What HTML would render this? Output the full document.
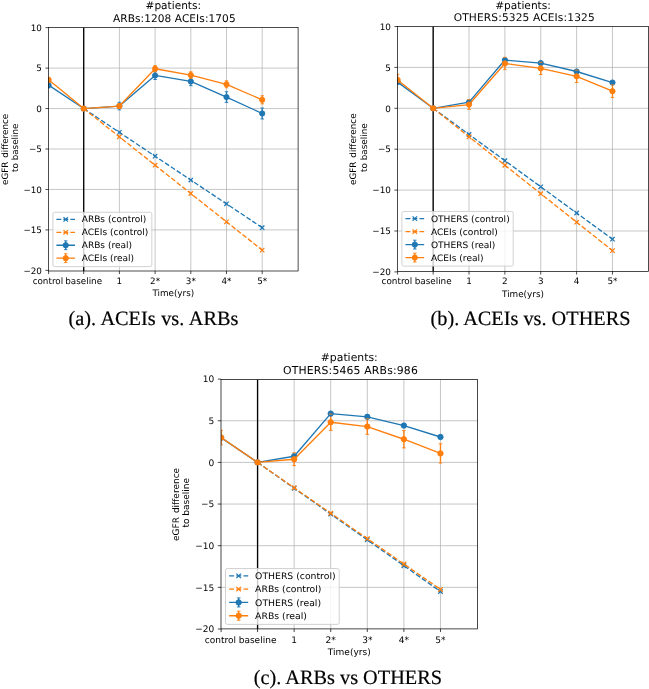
<!DOCTYPE html>
<html lang="en">
<head>
<meta charset="utf-8">
<title>eGFR difference to baseline</title>
<style>
html,body{margin:0;padding:0;background:#fff;}
body{width:649px;height:689px;overflow:hidden;}
svg{display:block;text-rendering:geometricPrecision;will-change:transform;}
</style>
</head>
<body>
<svg width="649" height="689" viewBox="0 0 649 689">
<rect width="649" height="689" fill="#fff"/>
<g id="pa">
<clipPath id="clip-pa"><rect x="48.5" y="27.4" width="249.6" height="243.6"/></clipPath>
<path d="M83.7 27.4V271M119.4 27.4V271M155.1 27.4V271M190.8 27.4V271M226.5 27.4V271M262.2 27.4V271M48.5 68.1H298.1M48.5 108.55H298.1M48.5 149H298.1M48.5 189.45H298.1M48.5 229.9H298.1" stroke="#b0b0b0" stroke-width="0.7" fill="none"/>
<g clip-path="url(#clip-pa)">
<path d="M83.7 27.4V271" stroke="#000" stroke-width="1.32" fill="none"/>
<path d="M83.7 108.55L119.4 132.38L155.1 156.2L190.8 180.03L226.5 203.85L262.2 227.68" stroke="#1f77b4" stroke-width="1.32" stroke-dasharray="4.88 2.11" fill="none"/>
<path d="M81.5 106.35L85.9 110.75M81.5 110.75L85.9 106.35M117.2 130.18L121.6 134.57M117.2 134.57L121.6 130.18M152.9 154L157.3 158.4M152.9 158.4L157.3 154M188.6 177.83L193 182.22M188.6 182.22L193 177.83M224.3 201.65L228.7 206.05M224.3 206.05L228.7 201.65M260 225.48L264.4 229.87M260 229.87L264.4 225.48" stroke="#1f77b4" stroke-width="1.23" fill="none"/>
<path d="M83.7 108.55L119.4 136.87L155.1 165.18L190.8 193.5L226.5 221.81L262.2 250.12" stroke="#ff7f0e" stroke-width="1.32" stroke-dasharray="4.88 2.11" fill="none"/>
<path d="M81.5 106.35L85.9 110.75M81.5 110.75L85.9 106.35M117.2 134.67L121.6 139.06M117.2 139.06L121.6 134.67M152.9 162.98L157.3 167.38M152.9 167.38L157.3 162.98M188.6 191.3L193 195.69M188.6 195.69L193 191.3M224.3 219.61L228.7 224.01M224.3 224.01L228.7 219.61M260 247.93L264.4 252.32M260 252.32L264.4 247.93" stroke="#ff7f0e" stroke-width="1.23" fill="none"/>
<path d="M48.6 82.26V87.92M119.4 102.24V109.84M155.1 71.42V79.51M190.8 77.24V85.66M226.5 91.72V102.4M262.2 107.98V118.99" stroke="#1f77b4" stroke-width="1.32" fill="none"/>
<path d="M48.6 77.4V82.26M119.4 103.62V108.47M155.1 65.67V71.82M190.8 71.82V78.29M226.5 80.8V87.76M262.2 95.77V103.86" stroke="#ff7f0e" stroke-width="1.32" fill="none"/>
<path d="M48.6 85.09L83.7 108.55L119.4 106.04L155.1 75.46L190.8 81.45L226.5 97.06L262.2 113.48" stroke="#1f77b4" stroke-width="1.32" stroke-linejoin="round" fill="none"/>
<circle cx="48.6" cy="85.09" r="2.64" fill="#1f77b4" stroke="#1f77b4" stroke-width="0.88"/>
<circle cx="83.7" cy="108.55" r="2.64" fill="#1f77b4" stroke="#1f77b4" stroke-width="0.88"/>
<circle cx="119.4" cy="106.04" r="2.64" fill="#1f77b4" stroke="#1f77b4" stroke-width="0.88"/>
<circle cx="155.1" cy="75.46" r="2.64" fill="#1f77b4" stroke="#1f77b4" stroke-width="0.88"/>
<circle cx="190.8" cy="81.45" r="2.64" fill="#1f77b4" stroke="#1f77b4" stroke-width="0.88"/>
<circle cx="226.5" cy="97.06" r="2.64" fill="#1f77b4" stroke="#1f77b4" stroke-width="0.88"/>
<circle cx="262.2" cy="113.48" r="2.64" fill="#1f77b4" stroke="#1f77b4" stroke-width="0.88"/>
<path d="M46.84 82.26h3.52M46.84 87.92h3.52M117.64 102.24h3.52M117.64 109.84h3.52M153.34 71.42h3.52M153.34 79.51h3.52M189.04 77.24h3.52M189.04 85.66h3.52M224.74 91.72h3.52M224.74 102.4h3.52M260.44 107.98h3.52M260.44 118.99h3.52" stroke="#1f77b4" stroke-width="0.88" fill="none"/>
<path d="M48.6 79.83L83.7 108.55L119.4 106.04L155.1 68.75L190.8 75.06L226.5 84.28L262.2 99.81" stroke="#ff7f0e" stroke-width="1.32" stroke-linejoin="round" fill="none"/>
<circle cx="48.6" cy="79.83" r="2.64" fill="#ff7f0e" stroke="#ff7f0e" stroke-width="0.88"/>
<circle cx="83.7" cy="108.55" r="2.64" fill="#ff7f0e" stroke="#ff7f0e" stroke-width="0.88"/>
<circle cx="119.4" cy="106.04" r="2.64" fill="#ff7f0e" stroke="#ff7f0e" stroke-width="0.88"/>
<circle cx="155.1" cy="68.75" r="2.64" fill="#ff7f0e" stroke="#ff7f0e" stroke-width="0.88"/>
<circle cx="190.8" cy="75.06" r="2.64" fill="#ff7f0e" stroke="#ff7f0e" stroke-width="0.88"/>
<circle cx="226.5" cy="84.28" r="2.64" fill="#ff7f0e" stroke="#ff7f0e" stroke-width="0.88"/>
<circle cx="262.2" cy="99.81" r="2.64" fill="#ff7f0e" stroke="#ff7f0e" stroke-width="0.88"/>
<path d="M46.84 77.4h3.52M46.84 82.26h3.52M117.64 103.62h3.52M117.64 108.47h3.52M153.34 65.67h3.52M153.34 71.82h3.52M189.04 71.82h3.52M189.04 78.29h3.52M224.74 80.8h3.52M224.74 87.76h3.52M260.44 95.77h3.52M260.44 103.86h3.52" stroke="#ff7f0e" stroke-width="0.88" fill="none"/>
</g>
<path d="M48.6 271v3.08M83.7 271v3.08M119.4 271v3.08M155.1 271v3.08M190.8 271v3.08M226.5 271v3.08M262.2 271v3.08M48.5 27.65h-3.08M48.5 68.1h-3.08M48.5 108.55h-3.08M48.5 149h-3.08M48.5 189.45h-3.08M48.5 229.9h-3.08M48.5 270.35h-3.08" stroke="#000" stroke-width="0.7" fill="none"/>
<rect x="48.5" y="27.4" width="249.6" height="243.6" fill="none" stroke="#000" stroke-width="0.7"/>
<g font-family="DejaVu Sans, Liberation Sans, sans-serif" font-size="8.79" fill="#000">
<text x="47.9" y="283.83" text-anchor="middle">control</text>
<text x="83.7" y="283.83" text-anchor="middle">baseline</text>
<text x="119.4" y="283.83" text-anchor="middle">1</text>
<text x="155.1" y="283.83" text-anchor="middle">2*</text>
<text x="190.8" y="283.83" text-anchor="middle">3*</text>
<text x="226.5" y="283.83" text-anchor="middle">4*</text>
<text x="262.2" y="283.83" text-anchor="middle">5*</text>
<text x="41.95" y="30.86" text-anchor="end">10</text>
<text x="41.95" y="71.31" text-anchor="end">5</text>
<text x="41.95" y="111.76" text-anchor="end">0</text>
<text x="41.95" y="152.21" text-anchor="end">−5</text>
<text x="41.95" y="192.66" text-anchor="end">−10</text>
<text x="41.95" y="233.11" text-anchor="end">−15</text>
<text x="41.95" y="273.56" text-anchor="end">−20</text>
<text x="173.3" y="295.88" text-anchor="middle">Time(yrs)</text>
<text transform="translate(7.5 149.4) rotate(-90)" text-anchor="middle" word-spacing="0.97">eGFR difference</text>
<text transform="translate(17.73 147.79) rotate(-90)" text-anchor="middle">to baseline</text>
</g>
<g font-family="DejaVu Sans, Liberation Sans, sans-serif" font-size="10.55" fill="#000" text-anchor="middle">
<text x="173.3" y="9.38">#patients:</text>
<text x="113" y="21.73" text-anchor="start" textLength="122.6">ARBs:1208 ACEIs:1705</text>
</g>
<rect x="52.89" y="212.28" width="98.94" height="54.32" rx="1.76" fill="#fff" fill-opacity="0.8" stroke="#ccc" stroke-width="0.88"/>
<g font-family="DejaVu Sans, Liberation Sans, sans-serif" font-size="8.79" fill="#000">
<path d="M56.41 219.4H74.99" stroke="#1f77b4" stroke-width="1.32" stroke-dasharray="4.88 2.11" fill="none"/>
<path d="M63.5 217.21L67.9 221.6M63.5 221.6L67.9 217.21" stroke="#1f77b4" stroke-width="1.23" fill="none"/>
<text x="81.72" y="222.48" textLength="64.55" lengthAdjust="spacingAndGlyphs">ARBs (control)</text>
<path d="M56.41 232.32H74.99" stroke="#ff7f0e" stroke-width="1.32" stroke-dasharray="4.88 2.11" fill="none"/>
<path d="M63.5 230.13L67.9 234.52M63.5 234.52L67.9 230.13" stroke="#ff7f0e" stroke-width="1.23" fill="none"/>
<text x="81.72" y="235.4" textLength="66.6" lengthAdjust="spacingAndGlyphs">ACEIs (control)</text>
<path d="M56.41 245.25H74.99M65.7 240.85V249.64" stroke="#1f77b4" stroke-width="1.32" fill="none"/>
<path d="M63.94 240.85h3.52M63.94 249.64h3.52" stroke="#1f77b4" stroke-width="0.88" fill="none"/>
<circle cx="65.7" cy="245.25" r="2.64" fill="#1f77b4" stroke="#1f77b4" stroke-width="0.88"/>
<text x="81.72" y="248.32" textLength="50.37" lengthAdjust="spacingAndGlyphs">ARBs (real)</text>
<path d="M56.41 258.17H74.99M65.7 253.77V262.56" stroke="#ff7f0e" stroke-width="1.32" fill="none"/>
<path d="M63.94 253.77h3.52M63.94 262.56h3.52" stroke="#ff7f0e" stroke-width="0.88" fill="none"/>
<circle cx="65.7" cy="258.17" r="2.64" fill="#ff7f0e" stroke="#ff7f0e" stroke-width="0.88"/>
<text x="81.72" y="261.24" textLength="52.41" lengthAdjust="spacingAndGlyphs">ACEIs (real)</text>
</g>
</g>
<g id="pb">
<clipPath id="clip-pb"><rect x="397.5" y="26.5" width="251" height="245"/></clipPath>
<path d="M433.17 26.5V271.5M469.03 26.5V271.5M504.89 26.5V271.5M540.76 26.5V271.5M576.62 26.5V271.5M612.48 26.5V271.5M397.5 67.4H648.5M397.5 108.3H648.5M397.5 149.2H648.5M397.5 190.1H648.5M397.5 231H648.5" stroke="#b0b0b0" stroke-width="0.71" fill="none"/>
<g clip-path="url(#clip-pb)">
<path d="M433.17 26.5V271.5" stroke="#000" stroke-width="1.33" fill="none"/>
<path d="M433.17 108.3L469.03 134.48L504.89 160.65L540.76 186.83L576.62 213L612.48 239.18" stroke="#1f77b4" stroke-width="1.33" stroke-dasharray="4.91 2.12" fill="none"/>
<path d="M430.96 106.09L435.38 110.51M430.96 110.51L435.38 106.09M466.82 132.27L471.24 136.69M466.82 136.69L471.24 132.27M502.68 158.44L507.1 162.86M502.68 162.86L507.1 158.44M538.55 184.62L542.97 189.04M538.55 189.04L542.97 184.62M574.41 210.79L578.83 215.21M574.41 215.21L578.83 210.79M610.27 236.97L614.69 241.39M610.27 241.39L614.69 236.97" stroke="#1f77b4" stroke-width="1.24" fill="none"/>
<path d="M433.17 108.3L469.03 136.77L504.89 165.23L540.76 193.7L576.62 222.17L612.48 250.63" stroke="#ff7f0e" stroke-width="1.33" stroke-dasharray="4.91 2.12" fill="none"/>
<path d="M430.96 106.09L435.38 110.51M430.96 110.51L435.38 106.09M466.82 134.56L471.24 138.98M466.82 138.98L471.24 134.56M502.68 163.02L507.1 167.44M502.68 167.44L507.1 163.02M538.55 191.49L542.97 195.91M538.55 195.91L542.97 191.49M574.41 219.96L578.83 224.38M574.41 224.38L578.83 219.96M610.27 248.42L614.69 252.84M610.27 252.84L614.69 248.42" stroke="#ff7f0e" stroke-width="1.24" fill="none"/>
<path d="M397.6 80.49V83.76M469.03 100.45V103.72M504.89 58.4V61.67M540.76 61.43V64.7M576.62 69.85V73.13M612.48 80.9V84.17" stroke="#1f77b4" stroke-width="1.33" fill="none"/>
<path d="M397.6 74.35V82.37M469.03 99.63V109.45M504.89 57.34V69.61M540.76 62.25V74.52M576.62 70.1V82.53M612.48 84.82V97.58" stroke="#ff7f0e" stroke-width="1.33" fill="none"/>
<path d="M397.6 82.12L433.17 108.3L469.03 102.08L504.89 60.04L540.76 63.06L576.62 71.49L612.48 82.53" stroke="#1f77b4" stroke-width="1.33" stroke-linejoin="round" fill="none"/>
<circle cx="397.6" cy="82.12" r="2.65" fill="#1f77b4" stroke="#1f77b4" stroke-width="0.88"/>
<circle cx="433.17" cy="108.3" r="2.65" fill="#1f77b4" stroke="#1f77b4" stroke-width="0.88"/>
<circle cx="469.03" cy="102.08" r="2.65" fill="#1f77b4" stroke="#1f77b4" stroke-width="0.88"/>
<circle cx="504.89" cy="60.04" r="2.65" fill="#1f77b4" stroke="#1f77b4" stroke-width="0.88"/>
<circle cx="540.76" cy="63.06" r="2.65" fill="#1f77b4" stroke="#1f77b4" stroke-width="0.88"/>
<circle cx="576.62" cy="71.49" r="2.65" fill="#1f77b4" stroke="#1f77b4" stroke-width="0.88"/>
<circle cx="612.48" cy="82.53" r="2.65" fill="#1f77b4" stroke="#1f77b4" stroke-width="0.88"/>
<path d="M395.83 80.49h3.54M395.83 83.76h3.54M467.26 100.45h3.54M467.26 103.72h3.54M503.13 58.4h3.54M503.13 61.67h3.54M538.99 61.43h3.54M538.99 64.7h3.54M574.85 69.85h3.54M574.85 73.13h3.54M610.71 80.9h3.54M610.71 84.17h3.54" stroke="#1f77b4" stroke-width="0.88" fill="none"/>
<path d="M397.6 79.92L433.17 108.3L469.03 104.54L504.89 63.47L540.76 68.38L576.62 76.32L612.48 91.2" stroke="#ff7f0e" stroke-width="1.33" stroke-linejoin="round" fill="none"/>
<circle cx="397.6" cy="79.92" r="2.65" fill="#ff7f0e" stroke="#ff7f0e" stroke-width="0.88"/>
<circle cx="433.17" cy="108.3" r="2.65" fill="#ff7f0e" stroke="#ff7f0e" stroke-width="0.88"/>
<circle cx="469.03" cy="104.54" r="2.65" fill="#ff7f0e" stroke="#ff7f0e" stroke-width="0.88"/>
<circle cx="504.89" cy="63.47" r="2.65" fill="#ff7f0e" stroke="#ff7f0e" stroke-width="0.88"/>
<circle cx="540.76" cy="68.38" r="2.65" fill="#ff7f0e" stroke="#ff7f0e" stroke-width="0.88"/>
<circle cx="576.62" cy="76.32" r="2.65" fill="#ff7f0e" stroke="#ff7f0e" stroke-width="0.88"/>
<circle cx="612.48" cy="91.2" r="2.65" fill="#ff7f0e" stroke="#ff7f0e" stroke-width="0.88"/>
<path d="M395.83 74.35h3.54M395.83 82.37h3.54M467.26 99.63h3.54M467.26 109.45h3.54M503.13 57.34h3.54M503.13 69.61h3.54M538.99 62.25h3.54M538.99 74.52h3.54M574.85 70.1h3.54M574.85 82.53h3.54M610.71 84.82h3.54M610.71 97.58h3.54" stroke="#ff7f0e" stroke-width="0.88" fill="none"/>
</g>
<path d="M397.6 271.5v3.09M433.17 271.5v3.09M469.03 271.5v3.09M504.89 271.5v3.09M540.76 271.5v3.09M576.62 271.5v3.09M612.48 271.5v3.09M397.5 26.5h-3.09M397.5 67.4h-3.09M397.5 108.3h-3.09M397.5 149.2h-3.09M397.5 190.1h-3.09M397.5 231h-3.09M397.5 271.9h-3.09" stroke="#000" stroke-width="0.71" fill="none"/>
<rect x="397.5" y="26.5" width="251" height="245" fill="none" stroke="#000" stroke-width="0.71"/>
<g font-family="DejaVu Sans, Liberation Sans, sans-serif" font-size="8.84" fill="#000">
<text x="396.9" y="284.41" text-anchor="middle">control</text>
<text x="433.17" y="284.41" text-anchor="middle">baseline</text>
<text x="469.03" y="284.41" text-anchor="middle">1</text>
<text x="504.89" y="284.41" text-anchor="middle">2</text>
<text x="540.76" y="284.41" text-anchor="middle">3</text>
<text x="576.62" y="284.41" text-anchor="middle">4</text>
<text x="612.48" y="284.41" text-anchor="middle">5*</text>
<text x="390.91" y="29.73" text-anchor="end">10</text>
<text x="390.91" y="70.63" text-anchor="end">5</text>
<text x="390.91" y="111.53" text-anchor="end">0</text>
<text x="390.91" y="152.43" text-anchor="end">−5</text>
<text x="390.91" y="193.33" text-anchor="end">−10</text>
<text x="390.91" y="234.23" text-anchor="end">−15</text>
<text x="390.91" y="275.13" text-anchor="end">−20</text>
<text x="523" y="296.52" text-anchor="middle">Time(yrs)</text>
<text transform="translate(356.27 149.2) rotate(-90)" text-anchor="middle" word-spacing="0.97">eGFR difference</text>
<text transform="translate(366.56 147.59) rotate(-90)" text-anchor="middle">to baseline</text>
</g>
<g font-family="DejaVu Sans, Liberation Sans, sans-serif" font-size="10.61" fill="#000" text-anchor="middle">
<text x="523" y="8.78">#patients:</text>
<text x="453.7" y="21.2" text-anchor="start" textLength="141">OTHERS:5325 ACEIs:1325</text>
</g>
<rect x="401.92" y="211.45" width="111.29" height="54.63" rx="1.77" fill="#fff" fill-opacity="0.8" stroke="#ccc" stroke-width="0.88"/>
<g font-family="DejaVu Sans, Liberation Sans, sans-serif" font-size="8.84" fill="#000">
<path d="M405.46 218.61H424.14" stroke="#1f77b4" stroke-width="1.33" stroke-dasharray="4.91 2.12" fill="none"/>
<path d="M412.59 216.4L417.01 220.82M412.59 220.82L417.01 216.4" stroke="#1f77b4" stroke-width="1.24" fill="none"/>
<text x="430.91" y="221.7" textLength="78.77" lengthAdjust="spacingAndGlyphs">OTHERS (control)</text>
<path d="M405.46 231.6H424.14" stroke="#ff7f0e" stroke-width="1.33" stroke-dasharray="4.91 2.12" fill="none"/>
<path d="M412.59 229.39L417.01 233.81M412.59 233.81L417.01 229.39" stroke="#ff7f0e" stroke-width="1.24" fill="none"/>
<text x="430.91" y="234.7" textLength="66.98" lengthAdjust="spacingAndGlyphs">ACEIs (control)</text>
<path d="M405.46 244.6H424.14M414.8 240.18V249.02" stroke="#1f77b4" stroke-width="1.33" fill="none"/>
<path d="M413.03 240.18h3.54M413.03 249.02h3.54" stroke="#1f77b4" stroke-width="0.88" fill="none"/>
<circle cx="414.8" cy="244.6" r="2.65" fill="#1f77b4" stroke="#1f77b4" stroke-width="0.88"/>
<text x="430.91" y="247.69" textLength="64.5" lengthAdjust="spacingAndGlyphs">OTHERS (real)</text>
<path d="M405.46 257.59H424.14M414.8 253.17V262.01" stroke="#ff7f0e" stroke-width="1.33" fill="none"/>
<path d="M413.03 253.17h3.54M413.03 262.01h3.54" stroke="#ff7f0e" stroke-width="0.88" fill="none"/>
<circle cx="414.8" cy="257.59" r="2.65" fill="#ff7f0e" stroke="#ff7f0e" stroke-width="0.88"/>
<text x="430.91" y="260.69" textLength="52.71" lengthAdjust="spacingAndGlyphs">ACEIs (real)</text>
</g>
</g>
<g id="pc">
<clipPath id="clip-pc"><rect x="221" y="379.5" width="256.5" height="249.4"/></clipPath>
<path d="M257.57 379.5V628.9M294.15 379.5V628.9M330.73 379.5V628.9M367.31 379.5V628.9M403.89 379.5V628.9M440.47 379.5V628.9M221 420.75H477.5M221 462.4H477.5M221 504.05H477.5M221 545.7H477.5M221 587.35H477.5" stroke="#b0b0b0" stroke-width="0.72" fill="none"/>
<g clip-path="url(#clip-pc)">
<path d="M257.57 379.5V628.9" stroke="#000" stroke-width="1.35" fill="none"/>
<path d="M257.57 462.4L294.15 488.22L330.73 514.05L367.31 539.87L403.89 565.69L440.47 591.51" stroke="#1f77b4" stroke-width="1.35" stroke-dasharray="5.01 2.17" fill="none"/>
<path d="M255.31 460.14L259.83 464.66M255.31 464.66L259.83 460.14M291.89 485.96L296.41 490.48M291.89 490.48L296.41 485.96M328.47 511.79L332.99 516.3M328.47 516.3L332.99 511.79M365.05 537.61L369.57 542.13M365.05 542.13L369.57 537.61M401.63 563.43L406.15 567.95M401.63 567.95L406.15 563.43M438.21 589.26L442.73 593.77M438.21 593.77L442.73 589.26" stroke="#1f77b4" stroke-width="1.26" fill="none"/>
<path d="M257.57 462.4L294.15 487.81L330.73 513.21L367.31 538.62L403.89 564.03L440.47 589.43" stroke="#ff7f0e" stroke-width="1.35" stroke-dasharray="5.01 2.17" fill="none"/>
<path d="M255.31 460.14L259.83 464.66M255.31 464.66L259.83 460.14M291.89 485.55L296.41 490.06M291.89 490.06L296.41 485.55M328.47 510.95L332.99 515.47M328.47 515.47L332.99 510.95M365.05 536.36L369.57 540.88M365.05 540.88L369.57 536.36M401.63 561.77L406.15 566.28M401.63 566.28L406.15 561.77M438.21 587.17L442.73 591.69M438.21 591.69L442.73 587.17" stroke="#ff7f0e" stroke-width="1.26" fill="none"/>
<path d="M221.1 435.99V439.33M294.15 454.57V457.9M330.73 411.92V415.25M367.31 415.17V418.5M403.89 423.92V427.25M440.47 435.33V438.66" stroke="#1f77b4" stroke-width="1.35" fill="none"/>
<path d="M221.1 430.33V444.82M294.15 452.82V465.65M330.73 414.09V430.41M367.31 418.83V434.33M403.89 430.58V447.91M440.47 443.74V463.07" stroke="#ff7f0e" stroke-width="1.35" fill="none"/>
<path d="M221.1 437.66L257.57 462.4L294.15 456.24L330.73 413.59L367.31 416.83L403.89 425.58L440.47 436.99" stroke="#1f77b4" stroke-width="1.35" stroke-linejoin="round" fill="none"/>
<circle cx="221.1" cy="437.66" r="2.71" fill="#1f77b4" stroke="#1f77b4" stroke-width="0.9"/>
<circle cx="257.57" cy="462.4" r="2.71" fill="#1f77b4" stroke="#1f77b4" stroke-width="0.9"/>
<circle cx="294.15" cy="456.24" r="2.71" fill="#1f77b4" stroke="#1f77b4" stroke-width="0.9"/>
<circle cx="330.73" cy="413.59" r="2.71" fill="#1f77b4" stroke="#1f77b4" stroke-width="0.9"/>
<circle cx="367.31" cy="416.83" r="2.71" fill="#1f77b4" stroke="#1f77b4" stroke-width="0.9"/>
<circle cx="403.89" cy="425.58" r="2.71" fill="#1f77b4" stroke="#1f77b4" stroke-width="0.9"/>
<circle cx="440.47" cy="436.99" r="2.71" fill="#1f77b4" stroke="#1f77b4" stroke-width="0.9"/>
<path d="M219.29 435.99h3.61M219.29 439.33h3.61M292.34 454.57h3.61M292.34 457.9h3.61M328.92 411.92h3.61M328.92 415.25h3.61M365.5 415.17h3.61M365.5 418.5h3.61M402.08 423.92h3.61M402.08 427.25h3.61M438.66 435.33h3.61M438.66 438.66h3.61" stroke="#1f77b4" stroke-width="0.9" fill="none"/>
<path d="M221.1 437.58L257.57 462.4L294.15 459.23L330.73 422.25L367.31 426.58L403.89 439.24L440.47 453.4" stroke="#ff7f0e" stroke-width="1.35" stroke-linejoin="round" fill="none"/>
<circle cx="221.1" cy="437.58" r="2.71" fill="#ff7f0e" stroke="#ff7f0e" stroke-width="0.9"/>
<circle cx="257.57" cy="462.4" r="2.71" fill="#ff7f0e" stroke="#ff7f0e" stroke-width="0.9"/>
<circle cx="294.15" cy="459.23" r="2.71" fill="#ff7f0e" stroke="#ff7f0e" stroke-width="0.9"/>
<circle cx="330.73" cy="422.25" r="2.71" fill="#ff7f0e" stroke="#ff7f0e" stroke-width="0.9"/>
<circle cx="367.31" cy="426.58" r="2.71" fill="#ff7f0e" stroke="#ff7f0e" stroke-width="0.9"/>
<circle cx="403.89" cy="439.24" r="2.71" fill="#ff7f0e" stroke="#ff7f0e" stroke-width="0.9"/>
<circle cx="440.47" cy="453.4" r="2.71" fill="#ff7f0e" stroke="#ff7f0e" stroke-width="0.9"/>
<path d="M219.29 430.33h3.61M219.29 444.82h3.61M292.34 452.82h3.61M292.34 465.65h3.61M328.92 414.09h3.61M328.92 430.41h3.61M365.5 418.83h3.61M365.5 434.33h3.61M402.08 430.58h3.61M402.08 447.91h3.61M438.66 443.74h3.61M438.66 463.07h3.61" stroke="#ff7f0e" stroke-width="0.9" fill="none"/>
</g>
<path d="M221.1 628.9v3.16M257.57 628.9v3.16M294.15 628.9v3.16M330.73 628.9v3.16M367.31 628.9v3.16M403.89 628.9v3.16M440.47 628.9v3.16M221 379.1h-3.16M221 420.75h-3.16M221 462.4h-3.16M221 504.05h-3.16M221 545.7h-3.16M221 587.35h-3.16M221 629h-3.16" stroke="#000" stroke-width="0.72" fill="none"/>
<rect x="221" y="379.5" width="256.5" height="249.4" fill="none" stroke="#000" stroke-width="0.72"/>
<g font-family="DejaVu Sans, Liberation Sans, sans-serif" font-size="9.03" fill="#000">
<text x="220.4" y="642.89" text-anchor="middle">control</text>
<text x="257.57" y="642.89" text-anchor="middle">baseline</text>
<text x="294.15" y="642.89" text-anchor="middle">1</text>
<text x="330.73" y="642.89" text-anchor="middle">2*</text>
<text x="367.31" y="642.89" text-anchor="middle">3*</text>
<text x="403.89" y="642.89" text-anchor="middle">4*</text>
<text x="440.47" y="642.89" text-anchor="middle">5*</text>
<text x="214.28" y="382.4" text-anchor="end">10</text>
<text x="214.28" y="424.05" text-anchor="end">5</text>
<text x="214.28" y="465.7" text-anchor="end">0</text>
<text x="214.28" y="507.35" text-anchor="end">−5</text>
<text x="214.28" y="549" text-anchor="end">−10</text>
<text x="214.28" y="590.65" text-anchor="end">−15</text>
<text x="214.28" y="632.3" text-anchor="end">−20</text>
<text x="349.25" y="655.26" text-anchor="middle">Time(yrs)</text>
<text transform="translate(178.87 504.4) rotate(-90)" text-anchor="middle" word-spacing="0.99">eGFR difference</text>
<text transform="translate(189.38 502.75) rotate(-90)" text-anchor="middle">to baseline</text>
</g>
<g font-family="DejaVu Sans, Liberation Sans, sans-serif" font-size="10.84" fill="#000" text-anchor="middle">
<text x="349.25" y="360.9">#patients:</text>
<text x="283" y="373.58" text-anchor="start" textLength="134.8">OTHERS:5465 ARBs:986</text>
</g>
<rect x="225.52" y="568.56" width="113.7" height="55.82" rx="1.81" fill="#fff" fill-opacity="0.8" stroke="#ccc" stroke-width="0.9"/>
<g font-family="DejaVu Sans, Liberation Sans, sans-serif" font-size="9.03" fill="#000">
<path d="M229.13 575.88H248.19" stroke="#1f77b4" stroke-width="1.35" stroke-dasharray="5.01 2.17" fill="none"/>
<path d="M236.4 573.62L240.92 578.14M236.4 578.14L240.92 573.62" stroke="#1f77b4" stroke-width="1.26" fill="none"/>
<text x="255.12" y="579.04" textLength="80.48" lengthAdjust="spacingAndGlyphs">OTHERS (control)</text>
<path d="M229.13 589.16H248.19" stroke="#ff7f0e" stroke-width="1.35" stroke-dasharray="5.01 2.17" fill="none"/>
<path d="M236.4 586.9L240.92 591.41M236.4 591.41L240.92 586.9" stroke="#ff7f0e" stroke-width="1.26" fill="none"/>
<text x="255.12" y="592.32" textLength="66.33" lengthAdjust="spacingAndGlyphs">ARBs (control)</text>
<path d="M229.13 602.43H248.19M238.66 597.92V606.95" stroke="#1f77b4" stroke-width="1.35" fill="none"/>
<path d="M236.86 597.92h3.61M236.86 606.95h3.61" stroke="#1f77b4" stroke-width="0.9" fill="none"/>
<circle cx="238.66" cy="602.43" r="2.71" fill="#1f77b4" stroke="#1f77b4" stroke-width="0.9"/>
<text x="255.12" y="605.6" textLength="65.91" lengthAdjust="spacingAndGlyphs">OTHERS (real)</text>
<path d="M229.13 615.71H248.19M238.66 611.2V620.23" stroke="#ff7f0e" stroke-width="1.35" fill="none"/>
<path d="M236.86 611.2h3.61M236.86 620.23h3.61" stroke="#ff7f0e" stroke-width="0.9" fill="none"/>
<circle cx="238.66" cy="615.71" r="2.71" fill="#ff7f0e" stroke="#ff7f0e" stroke-width="0.9"/>
<text x="255.12" y="618.87" textLength="51.76" lengthAdjust="spacingAndGlyphs">ARBs (real)</text>
</g>
</g>
<g font-family="Liberation Serif, DejaVu Serif, serif" font-size="20.3" fill="#000" stroke="#000" stroke-width="0.2">
<text x="68.4" y="324.9" word-spacing="0.5">(a). ACEIs vs. ARBs</text>
<text x="430.5" y="324.7">(b). ACEIs vs. OTHERS</text>
<text x="253.8" y="684.1">(c). ARBs vs OTHERS</text>
</g>
</svg>
</body>
</html>
